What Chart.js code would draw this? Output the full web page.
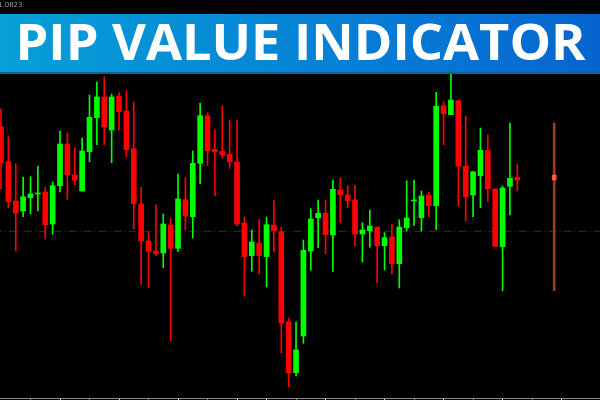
<!DOCTYPE html>
<html>
<head>
<meta charset="utf-8">
<script src="https://cdn.jsdelivr.net/npm/chart.js@4.4.1/dist/chart.umd.min.js"></script>
<style>
  html, body { margin: 0; padding: 0; background: #000; }
  canvas { display: block; background: #000; }
</style>
</head>
<body>
<canvas id="c" width="600" height="400"></canvas>
<script>
// ---- data ----
const titleText = "PIP VALUE INDICATOR";
const priceLabel = "1.0823";
const opens  = [1.08733,1.08383,1.07990,1.07890,1.08023,1.08060,1.08080,1.07760,1.08143,1.08560,1.08250,1.08090,1.08483,1.08823,1.09030,1.08700,1.09040,1.08890,1.08513,1.07960,1.07590,1.07490,1.07470,1.07750,1.07517,1.08003,1.07833,1.08367,1.08843,1.08507,1.08487,1.08457,1.08380,1.07770,1.07443,1.07570,1.07433,1.07750,1.07680,1.06780,1.06273,1.06640,1.07490,1.07823,1.07867,1.07650,1.08100,1.08050,1.08000,1.07660,1.07693,1.07730,1.07543,1.07630,1.07363,1.07723,1.07990,1.07823,1.08050,1.07943,1.08943,1.08853,1.08993,1.08337,1.08050,1.08243,1.08493,1.08110,1.07533,1.08137,1.08227];
const highs  = [1.08910,1.08633,1.08360,1.08230,1.08233,1.08340,1.08127,1.08180,1.08690,1.08670,1.08523,1.08620,1.09050,1.09180,1.09233,1.09060,1.09073,1.09093,1.08980,1.08127,1.07683,1.07950,1.07860,1.07817,1.08260,1.08223,1.08490,1.08967,1.08873,1.08697,1.08940,1.08800,1.08800,1.07830,1.07700,1.07803,1.07830,1.07993,1.07727,1.06820,1.06780,1.07600,1.07913,1.08000,1.08000,1.08200,1.08220,1.08143,1.08150,1.07773,1.07900,1.07730,1.07673,1.07757,1.07803,1.08193,1.08200,1.08090,1.08080,1.09077,1.08983,1.09280,1.08993,1.08840,1.08283,1.08720,1.08650,1.08110,1.08140,1.08770,1.08360];
const lows   = [1.08110,1.07920,1.07490,1.07833,1.07860,1.07890,1.07610,1.07657,1.08080,1.08007,1.08153,1.08090,1.08383,1.08553,1.08553,1.08373,1.08700,1.08433,1.07710,1.07157,1.07123,1.07443,1.07323,1.06593,1.07487,1.07700,1.07620,1.08163,1.08343,1.08043,1.08417,1.08317,1.07743,1.07040,1.07287,1.07260,1.07130,1.07480,1.06473,1.06133,1.06240,1.06567,1.07300,1.07523,1.07463,1.07287,1.07773,1.07923,1.07540,1.07380,1.07527,1.07173,1.07300,1.07260,1.07120,1.07690,1.07747,1.07690,1.07833,1.07703,1.08553,1.08853,1.07943,1.07793,1.07833,1.07923,1.07987,1.07537,1.07093,1.07850,1.08090];
const closes = [1.08373,1.07983,1.07870,1.08033,1.08060,1.08070,1.07753,1.08143,1.08560,1.08253,1.08200,1.08490,1.08827,1.09030,1.08730,1.09030,1.08883,1.08503,1.07963,1.07590,1.07490,1.07463,1.07760,1.07517,1.08010,1.07840,1.08367,1.08843,1.08493,1.08483,1.08450,1.08383,1.07760,1.07433,1.07580,1.07443,1.07753,1.07693,1.06770,1.06273,1.06500,1.07497,1.07810,1.07867,1.07653,1.08107,1.08053,1.07993,1.07660,1.07700,1.07740,1.07543,1.07623,1.07363,1.07730,1.07820,1.08000,1.08040,1.07943,1.08937,1.08863,1.09000,1.08340,1.08033,1.08283,1.08497,1.08113,1.07537,1.08120,1.08217,1.08200];
// current-bar marker (pip value indicator)
const markerIndex = 75;
const markerRange = [1.07093, 1.08770];
const markerBody  = [1.08200, 1.08250];
const levelPrice  = 1.07687;

// ---- styles ----
const UP = '#00ff00', DOWN = '#ff0000';
const upDown = opens.map((o, i) => closes[i] >= o);

const bodies = opens.map((o, i) => ({ x: i, y: [Math.min(o, closes[i]), Math.max(o, closes[i])] }));
const wicks  = opens.map((o, i) => ({ x: i, y: [lows[i], highs[i]] }));

const bannerPlugin = {
  id: 'banner',
  afterDraw(chart) {
    const ctx = chart.ctx;
    const W = chart.width;
    ctx.save();
    // small price label top-left
    ctx.fillStyle = '#9a9a9a';
    ctx.font = '7px "DejaVu Sans", sans-serif';
    ctx.textBaseline = 'top';
    ctx.fillText(priceLabel, -2, 2);
    // banner
    const g = ctx.createLinearGradient(0, 0, W, 0);
    g.addColorStop(0, '#069fd6');
    g.addColorStop(0.55, '#0681d6');
    g.addColorStop(1, '#0764cf');
    ctx.fillStyle = g;
    ctx.fillRect(0, 14, W, 60);
    ctx.fillStyle = '#0a62a0';
    ctx.fillRect(0, 72, W, 2);
    // title
    ctx.fillStyle = '#ffffff';
    ctx.font = '700 50px "Open Sans", sans-serif';
    ctx.textBaseline = 'alphabetic';
    const m = ctx.measureText(titleText);
    const targetW = 570;
    ctx.translate(15.5, 59.5);
    ctx.scale(targetW / m.width, 1);
    ctx.fillText(titleText, 0, 0);
    ctx.restore();
  }
};

new Chart(document.getElementById('c'), {
  type: 'bar',
  data: {
    datasets: [
      {
        label: 'level',
        type: 'line',
        data: [{ x: -1, y: levelPrice }, { x: 82, y: levelPrice }],
        borderColor: '#1f3d1f',
        borderWidth: 1,
        borderDash: [8, 3, 1, 3],
        pointRadius: 0,
        order: 4
      },
      {
        label: 'wicks',
        data: wicks,
        backgroundColor: upDown.map(u => u ? UP : DOWN),
        barThickness: 1,
        grouped: false,
        borderWidth: 0,
        order: 3
      },
      {
        label: 'bodies',
        data: bodies,
        backgroundColor: upDown.map(u => u ? UP : DOWN),
        barThickness: 5,
        minBarLength: 1,
        grouped: false,
        borderWidth: 0,
        order: 2
      },
      {
        label: 'markerLine',
        data: [{ x: markerIndex, y: markerRange }],
        backgroundColor: '#9c3a28',
        barThickness: 2,
        grouped: false,
        borderWidth: 0,
        order: 1
      },
      {
        label: 'markerBody',
        data: [{ x: markerIndex, y: markerBody }],
        backgroundColor: '#ff5a3a',
        barThickness: 4,
        grouped: false,
        borderWidth: 0,
        order: 0
      }
    ]
  },
  options: {
    responsive: false,
    animation: false,
    layout: { padding: 0 },
    plugins: { legend: { display: false }, tooltip: { enabled: false } },
    scales: {
      x: {
        type: 'linear',
        min: -0.1356,
        max: 81.21,
        offset: false,
        position: 'bottom',
        ticks: { display: false, stepSize: 4 },
        grid: {
          offset: false,
          drawOnChartArea: false,
          drawTicks: true,
          tickLength: 2,
          lineWidth: 1,
          color: (c) => {
            const v = c.tick ? c.tick.value : 0;
            if (v < 0 || v > 80) return 'rgba(0,0,0,0)';
            const bright = v < 36 ? (v % 8 === 0) : (v % 8 === 4);
            return bright ? '#e8e8e8' : '#777777';
          }
        },
        border: { display: true, color: '#8c8c8c', width: 1 }
      },
      y: {
        type: 'linear',
        display: false,
        min: 1.0602,
        max: 1.1000
      }
    }
  },
  plugins: [bannerPlugin]
});
</script>
</body>
</html>
